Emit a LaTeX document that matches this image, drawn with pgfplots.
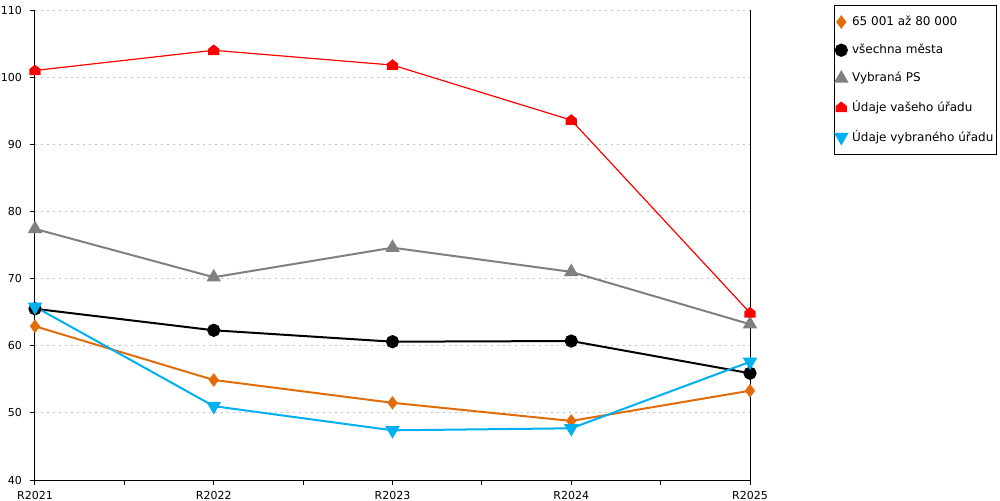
\documentclass[border=0pt]{standalone}
\usepackage{fontspec}
\setmainfont{DejaVu Sans}
\usepackage{pgfplots}
\pgfplotsset{compat=1.18}
\definecolor{cOrange}{RGB}{227,108,10}
\definecolor{cGray}{RGB}{128,128,128}
\definecolor{cRed}{RGB}{255,0,0}
\definecolor{cBlue}{RGB}{0,176,240}
\definecolor{cGrid}{RGB}{192,192,192}
\pgfdeclareplotmark{house}{%
  \pgfpathmoveto{\pgfqpoint{-\pgfplotmarksize}{-0.85\pgfplotmarksize}}%
  \pgfpathlineto{\pgfqpoint{\pgfplotmarksize}{-0.85\pgfplotmarksize}}%
  \pgfpathlineto{\pgfqpoint{\pgfplotmarksize}{0.25\pgfplotmarksize}}%
  \pgfpathlineto{\pgfqpoint{0pt}{1.05\pgfplotmarksize}}%
  \pgfpathlineto{\pgfqpoint{-\pgfplotmarksize}{0.25\pgfplotmarksize}}%
  \pgfpathclose
  \pgfusepathqfill}
\begin{document}
\begin{tikzpicture}
\useasboundingbox (0,0) rectangle (500pt,250pt);
\begin{axis}[
  at={(17.5pt,10pt)}, anchor=south west,
  scale only axis, width=357.5pt, height=235pt,
  xmin=0, xmax=4, ymin=40, ymax=110,
  axis x line*=bottom, axis y line*=left,
  axis line style={line width=0.5pt},
  xtick={0,1,2,3,4},
  xticklabels={R2021,R2022,R2023,R2024,R2025},
  minor xtick={0.5,1.5,2.5,3.5},
  ytick={40,50,...,110},
  tick align=outside,
  major tick length=2.5pt, minor tick length=2.5pt,
  tick style={black, line width=0.5pt},
  ymajorgrids,
  grid style={cGrid, line width=0.5pt, dash pattern=on 1pt off 2pt},
  ticklabel style={font=\fontsize{5.5}{6.6}\selectfont},
  /pgf/number format/assume math mode=true,
  xticklabel style={yshift=0.5pt},
  yticklabel style={xshift=-0.5pt},
  clip=false,
  legend style={at={(axis description cs:1.1175,1.0106)}, anchor=north west,
    draw=black, line width=0.5pt, font=\fontsize{6}{7.2}\selectfont,
    inner xsep=0.6pt, inner ysep=4.8pt, row sep=7.2pt,
    nodes={inner xsep=1pt, inner ysep=0.3pt},
    /tikz/every odd column/.append style={column sep=1.6pt}},
  legend cell align=left,
  legend image code/.code={\draw[#1, only marks] plot coordinates {(0pt,0pt)};},
]
\addplot[cOrange, line width=1pt, mark=diamond*, mark size=2.6pt, mark options={fill=cOrange, draw=cOrange}]
  coordinates {(0,62.9) (1,54.9) (2,51.5) (3,48.8) (4,53.3)};
\addlegendentry{65 001 až 80 000}
\addplot[black, line width=1pt, mark=*, mark size=2.8pt, mark options={fill=black}]
  coordinates {(0,65.5) (1,62.3) (2,60.6) (3,60.7) (4,55.9)};
\addlegendentry{všechna města}
\addplot[cGray, line width=1pt, mark=triangle*, mark size=3.2pt, mark options={fill=cGray}]
  coordinates {(0,77.4) (1,70.2) (2,74.6) (3,71.0) (4,63.2)};
\addlegendentry{Vybraná PS}
\addplot[cRed, line width=0.6pt, mark=house, mark size=2.8pt, mark options={fill=cRed}]
  coordinates {(0,101.0) (1,104.0) (2,101.8) (3,93.6) (4,64.9)};
\addlegendentry{Údaje vašeho úřadu}
\addplot[cBlue, line width=1pt, mark=triangle*, mark size=3.2pt, mark options={fill=cBlue, rotate=180}]
  coordinates {(0,65.8) (1,51.0) (2,47.4) (3,47.7) (4,57.6)};
\addlegendentry{Údaje vybraného úřadu}
\draw[black, line width=0.5pt] (rel axis cs:1,0) -- (rel axis cs:1,1);
\end{axis}
\end{tikzpicture}
\end{document}
